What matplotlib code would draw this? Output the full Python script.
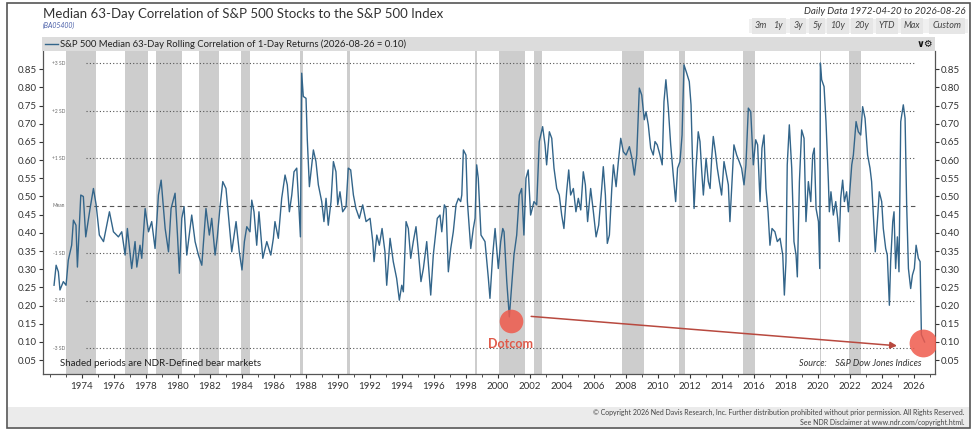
import matplotlib.pyplot as plt
from matplotlib.patches import Rectangle
import numpy as np

plt.rcParams['font.family'] = ['Lato', 'DejaVu Sans']

# median 63-day correlation (fractional year, value)
corr_year = [
    1972.27, 1972.40, 1972.54, 1972.64, 1972.85, 1973.02, 1973.16, 1973.37, 1973.48, 1973.64,
    1973.73, 1973.94, 1974.10, 1974.25, 1974.52, 1974.73, 1974.90, 1975.10, 1975.36, 1975.73,
    1975.98, 1976.29, 1976.50, 1976.71, 1976.85, 1977.12, 1977.33, 1977.44, 1977.64, 1977.75,
    1977.96, 1978.17, 1978.37, 1978.58, 1978.79, 1978.96, 1979.21, 1979.42, 1979.58, 1979.83,
    1979.98, 1980.10, 1980.25, 1980.39, 1980.56, 1980.87, 1981.08, 1981.29, 1981.50, 1981.76,
    1981.97, 1982.12, 1982.33, 1982.47, 1982.64, 1982.81, 1983.01, 1983.22, 1983.37, 1983.64,
    1983.84, 1984.01, 1984.16, 1984.31, 1984.51, 1984.62, 1984.76, 1984.93, 1985.07, 1985.31,
    1985.56, 1985.81, 1985.97, 1986.07, 1986.28, 1986.49, 1986.70, 1986.84, 1986.97, 1987.12,
    1987.26, 1987.43, 1987.57, 1987.66, 1987.74, 1987.84, 1988.01, 1988.09, 1988.22, 1988.37,
    1988.47, 1988.63, 1988.78, 1988.99, 1989.13, 1989.26, 1989.40, 1989.57, 1989.72, 1989.88,
    1989.99, 1990.13, 1990.30, 1990.51, 1990.65, 1990.80, 1990.97, 1991.13, 1991.34, 1991.55,
    1991.76, 1992.01, 1992.18, 1992.26, 1992.43, 1992.59, 1992.76, 1992.94, 1993.05, 1993.26,
    1993.46, 1993.67, 1993.84, 1993.99, 1994.09, 1994.26, 1994.40, 1994.55, 1994.71, 1994.88,
    1995.03, 1995.19, 1995.34, 1995.55, 1995.80, 1995.96, 1996.21, 1996.38, 1996.49, 1996.65,
    1996.76, 1996.90, 1997.05, 1997.21, 1997.38, 1997.53, 1997.67, 1997.74, 1997.84, 1998.00,
    1998.09, 1998.30, 1998.46, 1998.57, 1998.67, 1998.77, 1998.94, 1999.19, 1999.40, 1999.50,
    1999.67, 1999.82, 2000.02, 2000.17, 2000.30, 2000.38, 2000.55, 2000.71, 2000.86, 2001.00,
    2001.17, 2001.33, 2001.48, 2001.62, 2001.75, 2001.89, 2002.04, 2002.25, 2002.42, 2002.58,
    2002.79, 2002.94, 2003.04, 2003.21, 2003.36, 2003.50, 2003.67, 2003.83, 2003.98, 2004.12,
    2004.29, 2004.42, 2004.54, 2004.71, 2004.87, 2005.02, 2005.17, 2005.33, 2005.46, 2005.60,
    2005.79, 2005.96, 2006.13, 2006.29, 2006.48, 2006.58, 2006.71, 2006.83, 2006.96, 2007.11,
    2007.21, 2007.38, 2007.52, 2007.67, 2007.83, 2008.00, 2008.21, 2008.37, 2008.52, 2008.67,
    2008.83, 2008.98, 2009.14, 2009.25, 2009.39, 2009.54, 2009.70, 2009.81, 2009.95, 2010.12,
    2010.26, 2010.37, 2010.49, 2010.64, 2010.79, 2010.95, 2011.10, 2011.22, 2011.37, 2011.50,
    2011.62, 2011.79, 2011.95, 2012.06, 2012.16, 2012.25, 2012.37, 2012.51, 2012.62, 2012.73,
    2012.83, 2013.00, 2013.14, 2013.25, 2013.35, 2013.45, 2013.58, 2013.70, 2013.83, 2013.97,
    2014.12, 2014.24, 2014.39, 2014.49, 2014.60, 2014.74, 2014.91, 2015.07, 2015.22, 2015.37,
    2015.49, 2015.64, 2015.79, 2015.95, 2016.10, 2016.22, 2016.37, 2016.49, 2016.62, 2016.74,
    2016.87, 2016.99, 2017.12, 2017.30, 2017.45, 2017.62, 2017.79, 2017.89, 2017.99, 2018.07,
    2018.20, 2018.35, 2018.49, 2018.62, 2018.70, 2018.83, 2018.97, 2019.12, 2019.24, 2019.39,
    2019.54, 2019.66, 2019.76, 2019.87, 2020.02, 2020.10, 2020.14, 2020.22, 2020.37, 2020.49,
    2020.64, 2020.70, 2020.80, 2020.95, 2021.10, 2021.22, 2021.32, 2021.41, 2021.53, 2021.64,
    2021.78, 2021.89, 2021.99, 2022.10, 2022.20, 2022.37, 2022.51, 2022.66, 2022.78, 2022.93,
    2023.09, 2023.24, 2023.34, 2023.45, 2023.57, 2023.70, 2023.82, 2023.97, 2024.07, 2024.22,
    2024.32, 2024.45, 2024.53, 2024.66, 2024.74, 2024.84, 2024.95, 2025.05, 2025.16, 2025.32,
    2025.43, 2025.53, 2025.64, 2025.78, 2025.89, 2026.01, 2026.12, 2026.26, 2026.37, 2026.45,
    2026.65,
]
corr_value = [
    0.256, 0.311, 0.293, 0.243, 0.266, 0.256, 0.325, 0.366, 0.435, 0.421,
    0.306, 0.504, 0.500, 0.389, 0.467, 0.522, 0.477, 0.394, 0.376, 0.458,
    0.403, 0.389, 0.403, 0.339, 0.412, 0.302, 0.376, 0.306, 0.366, 0.330,
    0.467, 0.403, 0.431, 0.357, 0.504, 0.545, 0.412, 0.348, 0.467, 0.509,
    0.394, 0.289, 0.440, 0.472, 0.339, 0.449, 0.376, 0.339, 0.311, 0.467,
    0.394, 0.440, 0.339, 0.389, 0.472, 0.541, 0.522, 0.421, 0.348, 0.431,
    0.348, 0.298, 0.376, 0.417, 0.403, 0.490, 0.458, 0.366, 0.458, 0.330,
    0.376, 0.339, 0.385, 0.431, 0.385, 0.495, 0.559, 0.532, 0.458, 0.504,
    0.568, 0.578, 0.467, 0.389, 0.839, 0.775, 0.770, 0.656, 0.527, 0.587,
    0.628, 0.596, 0.532, 0.486, 0.431, 0.495, 0.421, 0.486, 0.596, 0.568,
    0.477, 0.513, 0.458, 0.472, 0.578, 0.573, 0.504, 0.467, 0.440, 0.477,
    0.431, 0.440, 0.376, 0.321, 0.394, 0.366, 0.412, 0.348, 0.256, 0.385,
    0.321, 0.275, 0.215, 0.256, 0.238, 0.431, 0.412, 0.330, 0.376, 0.417,
    0.348, 0.266, 0.302, 0.376, 0.229, 0.339, 0.440, 0.449, 0.403, 0.477,
    0.467, 0.293, 0.357, 0.403, 0.477, 0.495, 0.486, 0.504, 0.628, 0.614,
    0.486, 0.357, 0.412, 0.440, 0.587, 0.550, 0.394, 0.376, 0.275, 0.220,
    0.339, 0.412, 0.302, 0.376, 0.412, 0.403, 0.266, 0.169, 0.256, 0.339,
    0.394, 0.504, 0.522, 0.394, 0.550, 0.573, 0.449, 0.486, 0.477, 0.651,
    0.692, 0.642, 0.587, 0.678, 0.660, 0.578, 0.522, 0.504, 0.449, 0.412,
    0.513, 0.573, 0.504, 0.522, 0.458, 0.495, 0.463, 0.568, 0.532, 0.431,
    0.522, 0.458, 0.389, 0.421, 0.522, 0.582, 0.504, 0.371, 0.394, 0.522,
    0.587, 0.527, 0.596, 0.660, 0.623, 0.614, 0.637, 0.605, 0.559, 0.614,
    0.798, 0.779, 0.711, 0.733, 0.697, 0.633, 0.614, 0.651, 0.642, 0.614,
    0.587, 0.761, 0.821, 0.743, 0.642, 0.559, 0.486, 0.578, 0.596, 0.669,
    0.862, 0.839, 0.816, 0.752, 0.587, 0.467, 0.578, 0.678, 0.651, 0.568,
    0.504, 0.605, 0.541, 0.522, 0.605, 0.665, 0.623, 0.578, 0.541, 0.504,
    0.596, 0.568, 0.532, 0.431, 0.522, 0.642, 0.614, 0.596, 0.578, 0.532,
    0.587, 0.743, 0.733, 0.587, 0.656, 0.642, 0.486, 0.633, 0.669, 0.522,
    0.458, 0.366, 0.412, 0.403, 0.376, 0.385, 0.339, 0.229, 0.321, 0.587,
    0.697, 0.578, 0.376, 0.339, 0.279, 0.541, 0.683, 0.660, 0.431, 0.541,
    0.486, 0.614, 0.633, 0.467, 0.431, 0.302, 0.867, 0.821, 0.802, 0.706,
    0.541, 0.458, 0.513, 0.449, 0.486, 0.440, 0.376, 0.495, 0.545, 0.486,
    0.513, 0.458, 0.522, 0.587, 0.614, 0.706, 0.678, 0.669, 0.747, 0.715,
    0.614, 0.578, 0.541, 0.449, 0.348, 0.431, 0.513, 0.486, 0.412, 0.357,
    0.339, 0.201, 0.321, 0.431, 0.458, 0.302, 0.389, 0.293, 0.706, 0.752,
    0.715, 0.477, 0.302, 0.247, 0.284, 0.302, 0.366, 0.330, 0.321, 0.120,
    0.100,
]

# NDR-defined bear markets (start, end)
bear_start = [1973.02, 1976.72, 1978.66, 1981.31, 1983.93, 1987.65, 1990.55, 1998.55,
              2000.06, 2002.23, 2007.73, 2011.29, 2015.32, 2020.12, 2021.94]
bear_end = [1974.89, 1978.11, 1980.28, 1982.57, 1984.52, 1987.83, 1990.78, 1998.68,
            2001.72, 2002.75, 2009.12, 2011.71, 2016.03, 2020.20, 2022.68]

sd_labels = ['+3 SD', '+2 SD', '+1 SD', 'Mean', '-1 SD', '-2 SD', '-3 SD']
sd_levels = [0.866, 0.735, 0.605, 0.474, 0.344, 0.213, 0.083]

y_ticks = [0.05, 0.10, 0.15, 0.20, 0.25, 0.30, 0.35, 0.40, 0.45,
           0.50, 0.55, 0.60, 0.65, 0.70, 0.75, 0.80, 0.85]
x_ticks = list(range(1974, 2027, 2))

buttons = ['3m', '1y', '3y', '5y', '10y', '20y', 'YTD', 'Max', 'Custom']
button_x = [761, 778, 798, 817, 838, 862, 887, 912, 947]

W, H = 975, 433
LINE = '#33658a'


def fx(px):
    return px / W


def fy(py):
    return 1 - py / H


fig = plt.figure(figsize=(W / 100, H / 100), dpi=100)
fig.patch.set_facecolor('white')

# outer frame and footer band
fig.patches.append(Rectangle((fx(8), fy(427)), fx(961), 20 / H, transform=fig.transFigure,
                             facecolor='#ebebeb', edgecolor='none', zorder=0))
fig.patches.append(Rectangle((fx(7), fy(428)), fx(963), 425 / H, transform=fig.transFigure,
                             facecolor='none', edgecolor='#555555', lw=1.2, zorder=5))
# legend band
fig.patches.append(Rectangle((fx(42), fy(51)), fx(893), 14 / H, transform=fig.transFigure,
                             facecolor='#dcdcdc', edgecolor='none', zorder=0))
# button strip
fig.patches.append(Rectangle((fx(749), fy(33)), fx(219), 14 / H, transform=fig.transFigure,
                             facecolor='#f0f0f0', edgecolor='none', zorder=0))

ax = fig.add_axes([fx(43), fy(374), fx(892), 323 / H])

for s, e in zip(bear_start, bear_end):
    ax.axvspan(s, e, color='#cdcdcd', lw=0, zorder=0)

ytr = ax.get_yaxis_transform()
for lab, lvl in zip(sd_labels, sd_levels):
    ls = (0, (4, 3)) if lab == 'Mean' else (0, (1, 2))
    ax.plot([0.048, 0.978], [lvl, lvl], transform=ytr,
            color='#555555', lw=0.8, ls=ls, zorder=1)
    ax.text(0.018, lvl, lab, transform=ytr, fontsize=3.5, color='#666666',
            ha='center', va='center')

ax.plot(corr_year, corr_value, color=LINE, lw=1.0, zorder=3)

# annotations
ax.plot([2000.81], [0.157], 'o', ms=17, color='#ef5a4c', alpha=0.85, mec='none', zorder=4)
ax.plot([2026.52], [0.097], 'o', ms=20, color='#ef5a4c', alpha=0.85, mec='none', zorder=4)
ax.text(2000.76, 0.094, 'Dotcom', color='#e05a4a', fontsize=9, fontweight='bold',
        ha='center', va='center', zorder=4)
ax.annotate('', xy=(2025.1, 0.089), xytext=(2001.9, 0.171),
            arrowprops=dict(arrowstyle='-|>', color='#b8493f', lw=1.1,
                            mutation_scale=10), zorder=4)

ax.text(0.019, 0.02, 'Shaded periods are NDR-Defined bear markets', transform=ax.transAxes,
        fontsize=7, color='#222222', ha='left', va='bottom')
ax.text(0.985, 0.02, 'Source:    S&P Dow Jones Indices', transform=ax.transAxes,
        fontsize=6.5, style='italic', color='#333333', ha='right', va='bottom')

ax.set_xlim(1971.58, 2027.3)
ax.set_ylim(0.012, 0.90)
ax.set_yticks(y_ticks)
ax.set_yticklabels([f'{v:.2f}' for v in y_ticks])
ax.set_xticks(x_ticks)
ax.set_xticks(range(1972, 2028), minor=True)
ax.tick_params(axis='y', which='both', direction='out', length=3, pad=1.5,
               labelsize=7, right=True, labelright=True, colors='#333333')
ax.tick_params(axis='x', which='major', direction='out', length=3, pad=2.5,
               labelsize=7, colors='#333333')
ax.tick_params(axis='x', which='minor', direction='out', length=2, colors='#333333')
ax.spines['top'].set_visible(False)
for side in ['left', 'right', 'bottom']:
    ax.spines[side].set_color('#555555')
    ax.spines[side].set_linewidth(0.9)

# header texts
fig.text(fx(43), fy(14), 'Median 63-Day Correlation of S&P 500 Stocks to the S&P 500 Index',
         fontsize=9.5, color='#333333', ha='left', va='center')
fig.text(fx(43), fy(25), '(BA05400)', fontsize=5, color='#4a5fa8', style='italic',
         ha='left', va='center')
fig.text(fx(966), fy(12), 'Daily Data 1972-04-20 to 2026-08-26', fontsize=7, style='italic',
         color='#333333', ha='right', va='center')
for lab, bx in zip(buttons, button_x):
    fig.text(fx(bx), fy(26), lab, fontsize=6.5, style='italic', color='#444444',
             ha='center', va='center',
             bbox=dict(boxstyle='square,pad=0.35', fc='#e6e6e6', ec='none'))

fig.lines.append(plt.Line2D([fx(45), fx(58)], [fy(44), fy(44)], transform=fig.transFigure,
                            color=LINE, lw=1.0))
fig.text(fx(60), fy(44), 'S&P 500 Median 63-Day Rolling Correlation of 1-Day Returns '
         '(2026-08-26 = 0.10)', fontsize=6.8, color='#222222', ha='left', va='center')
fig.text(fx(925), fy(44), '\u2228\u2699', fontsize=7, fontweight='bold', color='#111111',
         family=['DejaVu Sans'], ha='center', va='center')

# footer
fig.text(fx(964), fy(412), '\u00a9 Copyright 2026 Ned Davis Research, Inc. Further distribution '
         'prohibited without prior permission. All Rights Reserved.', fontsize=5,
         color='#444444', ha='right', va='center')
fig.text(fx(964), fy(423), 'See NDR Disclaimer at www.ndr.com/copyright.html.', fontsize=5,
         color='#444444', ha='right', va='center')

fig.savefig('out.png', dpi=100)
